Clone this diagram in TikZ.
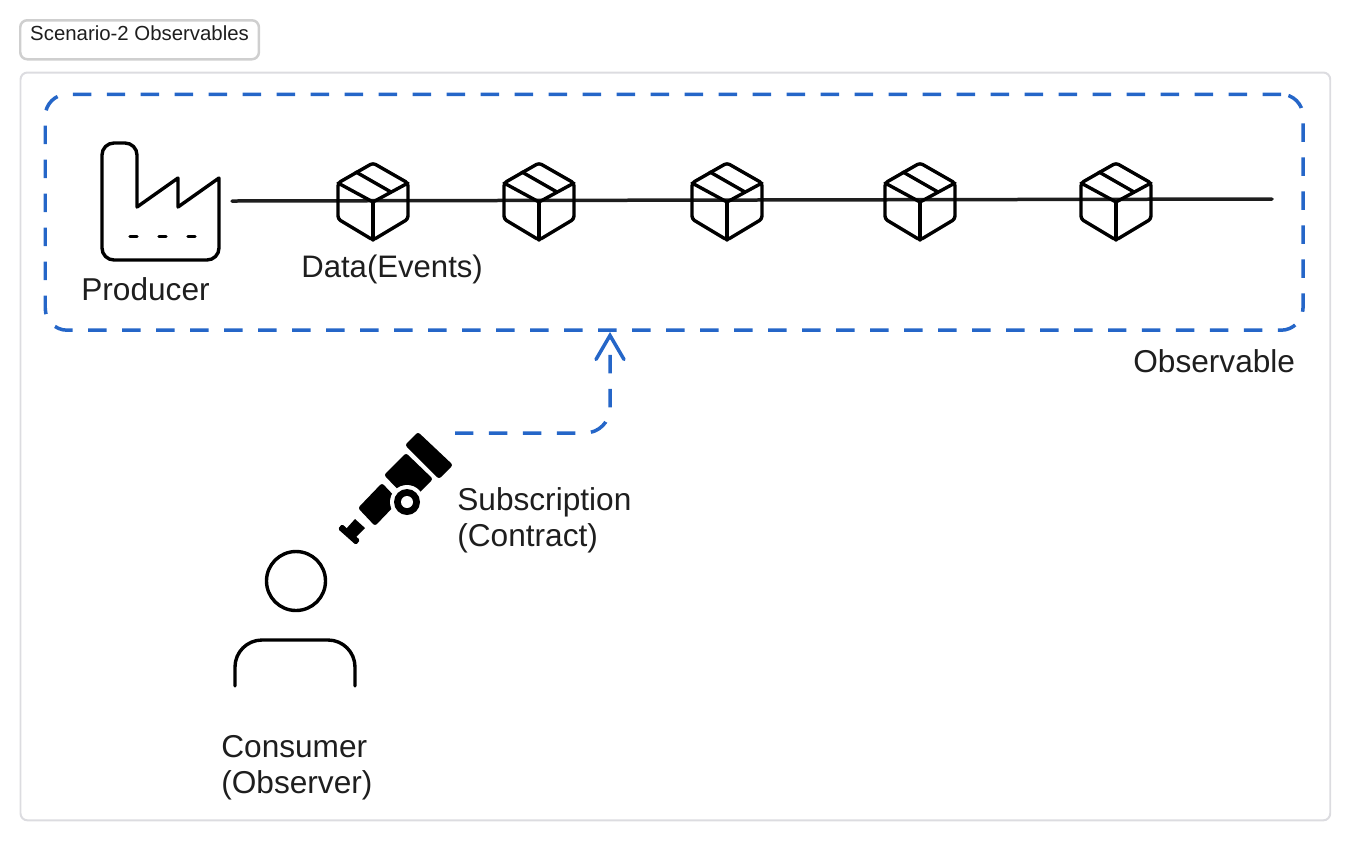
\documentclass[tikz,border=0pt]{standalone}
\usepackage{fontspec}
\setmainfont{Liberation Sans}
\usetikzlibrary{arrows.meta}
\definecolor{inkblack}{HTML}{1E1E1E}
\definecolor{dashblue}{HTML}{2566C8}
\definecolor{framegray}{HTML}{DCDCE0}
\definecolor{titlegray}{HTML}{CFCFCF}

\begin{document}
\begin{tikzpicture}[x=0.02cm,y=-0.02cm,
    label/.style={anchor=base west,inner sep=0pt,text=inkblack,font=\fontsize{18}{20}\selectfont,align=left},
    sketch/.style={line width=0.068cm,black,line join=round,line cap=round},
    bluedash/.style={line width=0.07cm,dashblue,dash pattern=on 0.37cm off 0.31cm},
    barb/.tip={Straight Barb[length=0.48cm,width=0.56cm,line cap=round]}]
    \useasboundingbox (0,0) rectangle (1350,840);

    \node[draw=titlegray,line width=0.05cm,rounded corners=0.14cm,anchor=north west,
        inner xsep=0.2cm,inner ysep=0pt,text height=0.40cm,text depth=0.38cm,
        text=inkblack,font=\fontsize{11.6}{14}\selectfont] (title) at (19,19)
        {Scenario-2 Observables};
    \node[draw=framegray,line width=0.04cm,rounded corners=0.14cm,anchor=north west,
        minimum width=26.2cm,minimum height=14.96cm,inner sep=0pt] (frame) at (19.5,71.5) {};

    \node[draw=dashblue,line width=0.07cm,dash pattern=on 0.37cm off 0.31cm,rounded corners=0.44cm,
        anchor=north west,minimum width=25.16cm,minimum height=4.72cm,inner sep=0pt]
        (observable) at (43.5,92.5) {};
    \node[label] (observablelabel) at (1133,372) {Observable};

    \draw[sketch,rounded corners=0.24cm] (219,178) -- (219,260) -- (102,260) -- (102,143)
        -- (137,143) -- (137,175) [sharp corners] -- (137,207) -- (178,178) -- (178,207) -- cycle;
    \foreach \x in {130,159,188}{
        \draw[sketch] (\x,236.5) -- ++(7,0);
    }
    \node[label] (producer) at (81,300) {Producer};

    \coordinate (linestart) at (232,201);
    \coordinate (lineend) at (1272,199);
    \draw[line width=0.07cm,inkblack,line cap=round] (linestart) -- (lineend);

    \foreach \x in {373,539,727,920,1116}{
        \begin{scope}[shift={(\x,201)}]
            \draw[sketch,rounded corners=0.06cm] (0,-38) -- (35,-18) -- (35,18) -- (0,39)
                -- (-35,18) -- (-35,-18) -- cycle;
            \draw[sketch] (-35,-18) -- (0,1) -- (35,-18);
            \draw[sketch] (0,1) -- (0,39);
            \draw[sketch] (-17,-29) -- (18,-9);
        \end{scope}
    }
    \node[label,font=\fontsize{17.7}{20}\selectfont] (data) at (301,277) {Data(Events)};

    \coordinate (subscribe) at (455,433);
    \coordinate (arrowtip) at (610,0 |- observable.south);
    \draw[bluedash,rounded corners=0.5cm,-barb] (subscribe) -| (arrowtip);

    \fill[black,rounded corners=0.05cm] (418,432) -- (453,465) -- (439,479) -- (405,445) -- cycle;
    \fill[black,rounded corners=0.05cm] (406,453) -- (433,479) -- (410,502) -- (384,475) -- cycle;
    \fill[black,rounded corners=0.05cm] (382,483) -- (399,501) -- (375,526) -- (358,508) -- cycle;
    \fill[black] (355,519) -- (365,528) -- (354,539) -- (346,529) -- cycle;
    \fill[black,rounded corners=0.03cm] (342,524) -- (360,540) -- (356,545) -- (338,529) -- cycle;
    \fill[white] (407,502) circle (17);
    \fill[black] (407,502) circle (13);
    \fill[white] (407,502) circle (6);
    \node[label] (subscription) at (457,546) {Subscription\\(Contract)};

    \draw[sketch] (296,581) circle (29.5);
    \draw[sketch,rounded corners=0.54cm] (235,686) -- (235,640) -- (355,640) -- (355,686);
    \node[label] (consumer) at (221,793) {Consumer\\(Observer)};
\end{tikzpicture}
\end{document}
